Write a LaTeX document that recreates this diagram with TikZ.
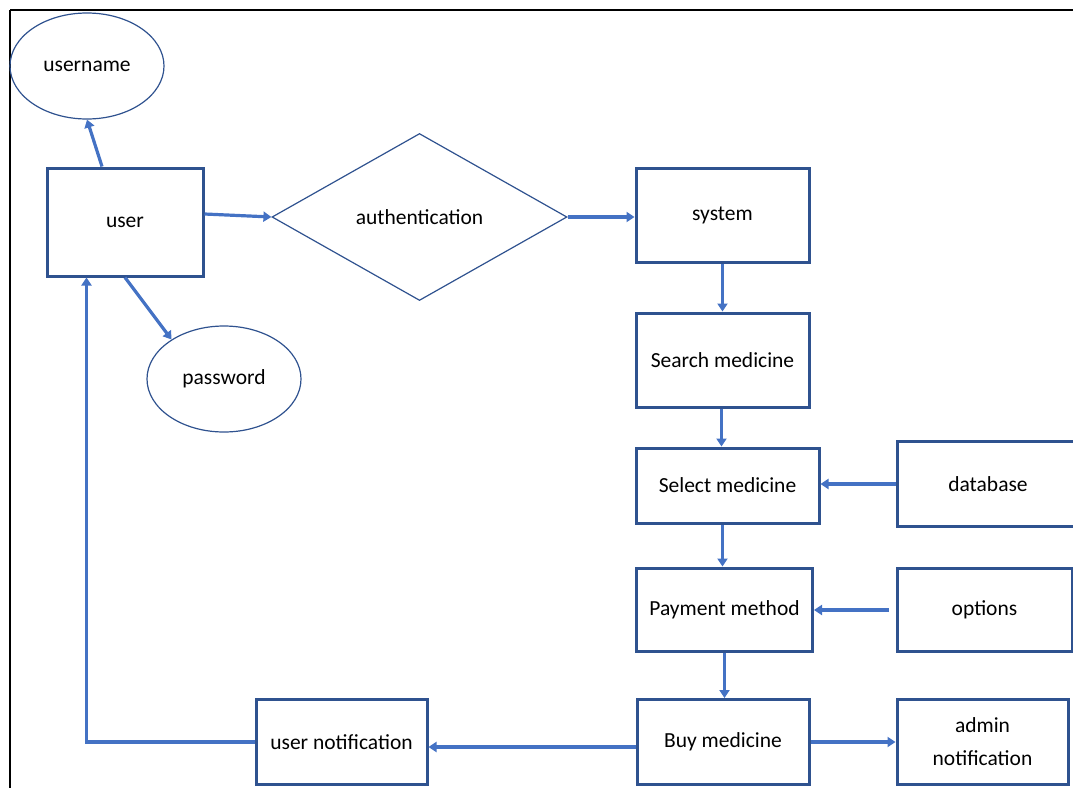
\documentclass[tikz,border=0pt]{standalone}
\usepackage{fontspec}
\setmainfont{Carlito}
\usetikzlibrary{shapes.geometric,arrows.meta,calc}
\definecolor{boxblue}{HTML}{2F528F}
\definecolor{linkblue}{HTML}{4472C4}
\begin{document}
\begin{tikzpicture}[x=1pt,y=-1pt,
  every node/.style={font=\fontsize{21.5}{33}\selectfont, text=black, inner sep=0pt},
  stepbox/.style={draw=boxblue, line width=3pt, rectangle},
  attr/.style={draw=boxblue, line width=1.2pt, ellipse, minimum width=154pt, minimum height=106pt},
  decide/.style={draw=boxblue, line width=1.2pt, diamond, minimum width=295pt, minimum height=167pt},
  link/.style={draw=linkblue, line width=3.2pt, -{Triangle[length=8pt,width=10pt]}}
]
\useasboundingbox (0,0) rectangle (1073,787);
% frame
\draw[black, line width=2pt] (10,10) -- (1085,10);
\draw[black, line width=2pt] (10,10) -- (10,795);

% nodes
\node[attr] (username) at (87,66) {\raisebox{-2pt}{username}};
\node[attr] (password) at (224,379) {\raisebox{-2pt}{password}};
\node[stepbox, minimum width=156pt, minimum height=108pt] (user) at (125,222) {\raisebox{-2pt}{user}};
\node[decide] (auth) at (419.5,217) {authentication};
\node[stepbox, minimum width=173pt, minimum height=94pt] (system) at (722.5,215) {system};
\node[stepbox, minimum width=173pt, minimum height=94pt] (search) at (722.5,360) {Search medicine};
\node[stepbox, minimum width=183pt, minimum height=75pt] (select) at (727.5,485.5) {Select medicine};
\node[stepbox, minimum width=182pt, minimum height=85pt] (database) at (988,484) {database};
\node[stepbox, minimum width=176pt, minimum height=83pt] (payment) at (724.5,609.5) {Payment method};
\node[stepbox, minimum width=175pt, minimum height=83pt] (options) at (984.5,610) {options};
\node[stepbox, minimum width=172pt, minimum height=85pt] (buy) at (723,742) {Buy medicine};
\node[stepbox, minimum width=171pt, minimum height=85pt, align=center] (admin) at (982.5,742) {admin\\notification};
\node[stepbox, minimum width=171pt, minimum height=85pt] (unotif) at (341.5,742) {user notification};

% connectors
\draw[link] ($(user.north)+(-23,0)$) -- (username.south);
\draw[link] (user.south) -- (password.143);
\draw[link] ($(user.east)+(0,-8)$) -- (auth.west);
\draw[link] (auth.east) -- (auth.east -| system.west);
\draw[link] (system.south) -- (search.north);
\draw[link] ($(search.south)+(-1,0)$) -- ($(search.south |- select.north)+(-1,0)$);
\draw[link] (search.south |- select.south) -- (search.south |- payment.north);
\draw[link] (payment.south) -- (payment.south |- buy.north);
\draw[link] (database.west) -- (database.west -| select.east);
\draw[link, shorten <=7pt] (options.west) -- (options.west -| payment.east);
\draw[link] (buy.east) -- (buy.east -| admin.west);
\draw[link] ($(buy.west)+(0,5)$) -- ($(buy.west -| unotif.east)+(0,5)$);
\draw[link] (unotif.west) -| ($(user.south west)+(41,0)$);
\end{tikzpicture}
\end{document}
